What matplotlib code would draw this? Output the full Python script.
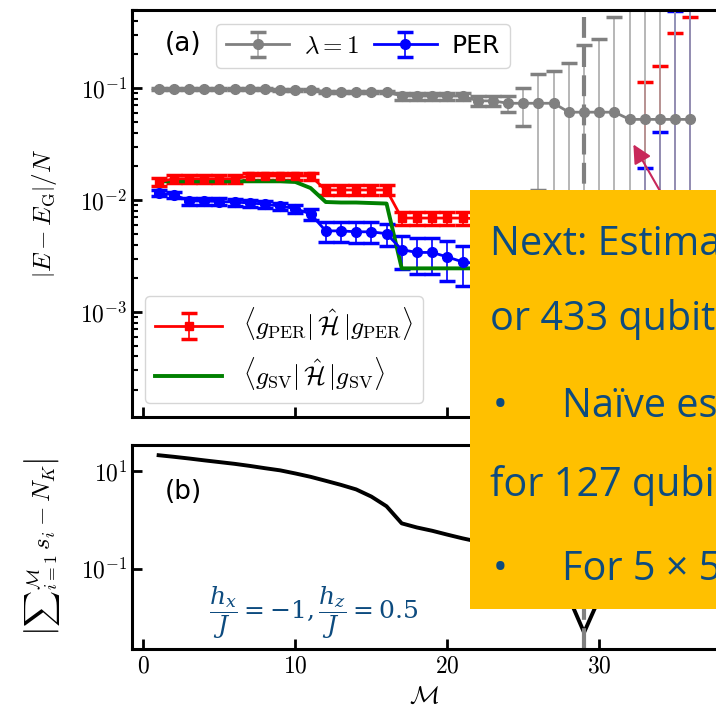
import numpy as np
import matplotlib
matplotlib.use("Agg")
import matplotlib.pyplot as plt
from matplotlib.patches import Rectangle, FancyArrowPatch
from matplotlib.ticker import FuncFormatter, NullLocator, FixedLocator

plt.rcParams['mathtext.fontset'] = 'cm'
plt.rcParams['font.family'] = ['DejaVu Sans']

# number of sampled states M = 1..36
M = np.arange(1, 37)

# lambda = 1 (gray)
lam1 = [0.098, 0.098, 0.098, 0.098, 0.098, 0.098, 0.098, 0.098, 0.097, 0.097,
        0.097, 0.093, 0.093, 0.093, 0.093, 0.093, 0.085, 0.085, 0.085, 0.085,
        0.085, 0.077, 0.077, 0.0733, 0.0733, 0.0733, 0.0733, 0.061, 0.061, 0.061,
        0.061, 0.0526, 0.0526, 0.0526, 0.0526, 0.0526]
lam1_err = [0.002, 0.002, 0.002, 0.002, 0.002, 0.002, 0.002, 0.002, 0.002, 0.002,
            0.002, 0.002, 0.002, 0.002, 0.002, 0.002, 0.006, 0.006, 0.006, 0.006,
            0.006, 0.008, 0.008, 0.012, 0.027, 0.061, 0.069, 0.107, 0.18, 0.215,
            0.375, 0.6, 0.7, 0.8, 0.9, 1.0]

# PER (blue)
per = [0.0115, 0.0112, 0.0098, 0.0098, 0.0097, 0.0096, 0.0094, 0.0092, 0.0088, 0.0084,
       0.0075, 0.0053, 0.0053, 0.0052, 0.0052, 0.0050, 0.0036, 0.0034, 0.0034, 0.0031,
       0.0028, 0.0027, 0.0026, 0.0026, 0.0025, 0.0025, 0.0024, 0.0024, 0.0024, 0.0023,
       0.0023, 0.0023, 0.0022, 0.0022, 0.0022, 0.0022]
per_err = [0.0007, 0.0007, 0.0007, 0.0007, 0.0007, 0.0007, 0.0007, 0.0007, 0.0007, 0.0007,
           0.0009, 0.0011, 0.0011, 0.0011, 0.0011, 0.0011, 0.0012, 0.0012, 0.0012, 0.0012,
           0.0011, 0.0012, 0.0012, 0.0012, 0.0012, 0.0012, 0.0012, 0.0012, 0.0012, 0.0012,
           0.0012, 0.0012, 0.017, 0.0385, 0.49, 0.8]

# <g_PER|H|g_PER> (red)
gper = [0.0145, 0.0155, 0.0155, 0.0155, 0.0155, 0.0155, 0.0164, 0.0164, 0.0164, 0.0164,
        0.0164, 0.0123, 0.0123, 0.0123, 0.0123, 0.0123, 0.0069, 0.0069, 0.0069, 0.0069,
        0.0069, 0.0068, 0.0068, 0.0068, 0.0068, 0.0068, 0.0068, 0.0068, 0.0068, 0.0068,
        0.0068, 0.0068, 0.0068, 0.0068, 0.0068, 0.0068]
gper_err = [0.0012, 0.0012, 0.0012, 0.0012, 0.0012, 0.0012, 0.0012, 0.0012, 0.0012, 0.0012,
            0.0012, 0.0012, 0.0012, 0.0012, 0.0012, 0.0012, 0.0009, 0.0009, 0.0009, 0.0009,
            0.0009, 0.001, 0.001, 0.001, 0.001, 0.001, 0.001, 0.001, 0.001, 0.001,
            0.001, 0.001, 0.106, 0.151, 0.306, 0.43]

# <g_SV|H|g_SV> (green)
gsv = [0.0147, 0.0147, 0.0147, 0.0147, 0.0147, 0.0147, 0.0147, 0.0147, 0.0147, 0.0145,
       0.0128, 0.0096, 0.0095, 0.0095, 0.0094, 0.0093, 0.00245, 0.00245, 0.00245, 0.00245,
       0.00245, 0.00245, 0.00245, 0.00245, 0.00245, 0.00245, 0.00245, 0.00245, 0.00245, 0.00245,
       0.00245, 0.00245, 0.00245, 0.00245, 0.00245, 0.00245]

# |sum s_i - N_K| (panel b)
nk_dev = [21, 19.5, 18, 16.5, 15.2, 14, 12.7, 11.4, 10.3, 8.9,
          7.6, 6.3, 5.2, 4.2, 3.0, 1.9, 0.85, 0.7, 0.6, 0.5,
          0.42, 0.36, 0.3, 0.24, 0.18, 0.12, 0.07, 0.026, 0.005, 0.025,
          0.05, 0.08, 0.1, 0.12, 0.15, 0.18]

M_mark = 29
txt_col = '#0d4b7f'

fig = plt.figure(figsize=(7.16, 7.13), dpi=100)
ax1 = fig.add_axes([0.1844, 0.4152, 0.817, 0.5708])
ax2 = fig.add_axes([0.1844, 0.0898, 0.817, 0.2861])

eb_kw = dict(lw=2, elinewidth=1.2, capsize=6, capthick=2.5)
h_red = ax1.errorbar(M, gper, yerr=gper_err, fmt='-s', color='red', ms=6, **eb_kw)
h_blue = ax1.errorbar(M, per, yerr=per_err, fmt='-o', color='blue', ms=7, **eb_kw)
h_green, = ax1.plot(M, gsv, color='green', lw=2.8)
h_gray = ax1.errorbar(M, lam1, yerr=lam1_err, fmt='-o', color='gray', ms=7, **eb_kw)
h_gray[2][0].set_color('#aaaaaa')
ax1.axvline(M_mark, color='gray', lw=3, ls=(0, (5, 2)))

ax1.set_yscale('log')
ax1.set_ylim(1.15e-4, 0.5)
ax1.set_xlim(-0.75, 37.75)
ax1.set_ylabel(r'$\left|E-E_{\rm G}\right|/N$', fontsize=18)
ax1.yaxis.set_label_coords(-0.125, 0.5)

leg1 = ax1.legend([h_gray, h_blue], [r'$\lambda=1$', 'PER'], ncol=2, loc='upper left',
                  bbox_to_anchor=(0.144, 0.966), borderaxespad=0, fontsize=18,
                  handlelength=2.5, handletextpad=0.6, columnspacing=0.6)
ax1.add_artist(leg1)
ax1.legend([h_red, h_green],
           [r'$\langle g_{\rm PER}|\,\hat{\mathcal{H}}\,|g_{\rm PER}\rangle$',
            r'$\langle g_{\rm SV}|\,\hat{\mathcal{H}}\,|g_{\rm SV}\rangle$'],
           loc='lower left', bbox_to_anchor=(0.022, 0.034), borderaxespad=0,
           fontsize=18.5, handlelength=2.6)
ax1.text(0.056, 0.916, '(a)', transform=ax1.transAxes, fontsize=19, va='center')

ax2.plot(M, nk_dev, color='black', lw=2.8)
ax2.axvline(M_mark, color='gray', lw=3, ls=(0, (5, 2)))
ax2.set_yscale('log')
ax2.set_ylim(0.0023, 34)
ax2.set_xlim(-0.75, 37.75)
ax2.yaxis.set_major_locator(FixedLocator([10, 0.1]))
ax2.yaxis.set_minor_locator(NullLocator())
ax2.set_ylabel(r'$\left|{\sum}_{i=1}^{\mathcal{M}}\, s_i - N_K\right|$', fontsize=18)
ax2.yaxis.set_label_coords(-0.12, 0.5)
ax2.set_xlabel(r'$\mathcal{M}$', fontsize=18)
ax2.text(0.056, 0.77, '(b)', transform=ax2.transAxes, fontsize=19, va='center')
ax2.text(0.31, 0.18, r'$\dfrac{h_x}{J}=-1,\dfrac{h_z}{J}=0.5$', transform=ax2.transAxes,
         fontsize=18, color=txt_col, ha='center', va='center', math_fontfamily='dejavuserif')

logfmt = FuncFormatter(lambda v, p: r'$10^{%d}$' % round(np.log10(v)))
for ax in (ax1, ax2):
    ax.set_xticks([0, 10, 20, 30])
    ax.xaxis.set_major_formatter(FuncFormatter(lambda v, p: r'$%d$' % v))
    ax.yaxis.set_major_formatter(logfmt)
    ax.tick_params(which='major', direction='in', length=7, width=2, labelsize=17)
    ax.tick_params(which='minor', direction='in', length=4, width=1.5)
    for s in ax.spines.values():
        s.set_linewidth(2.2)
ax1.tick_params(labelbottom=False)

# slide overlay on top of the figure
fig.add_artist(FancyArrowPatch((668 / 716, 1 - 205 / 713), (632 / 716, 1 - 142 / 713),
                               transform=fig.transFigure, arrowstyle='-|>', mutation_scale=28,
                               lw=1.5, color='#c8285a', zorder=4))
fig.add_artist(Rectangle((470 / 716, 1 - 609 / 713), 0.4, (609 - 190) / 713,
                         transform=fig.transFigure, facecolor='#ffc000', edgecolor='none', zorder=5))
fkw = dict(fontsize=28.5, color=txt_col, family='Open Sans', va='center', ha='left', zorder=6)
fig.text(490 / 716, 1 - 245 / 713, 'Next: Estima', **fkw)
fig.text(490 / 716, 1 - 320 / 713, 'or 433 qubit', **fkw)
fig.text(493 / 716, 1 - 407 / 713, '•', **fkw)
fig.text(562 / 716, 1 - 407 / 713, 'Naïve es', **fkw)
fig.text(490 / 716, 1 - 485 / 713, 'for 127 qubi', **fkw)
fig.text(493 / 716, 1 - 570 / 713, '•', **fkw)
fig.text(562 / 716, 1 - 570 / 713, 'For 5 × 5', **fkw)

fig.savefig('out.png', dpi=100)
